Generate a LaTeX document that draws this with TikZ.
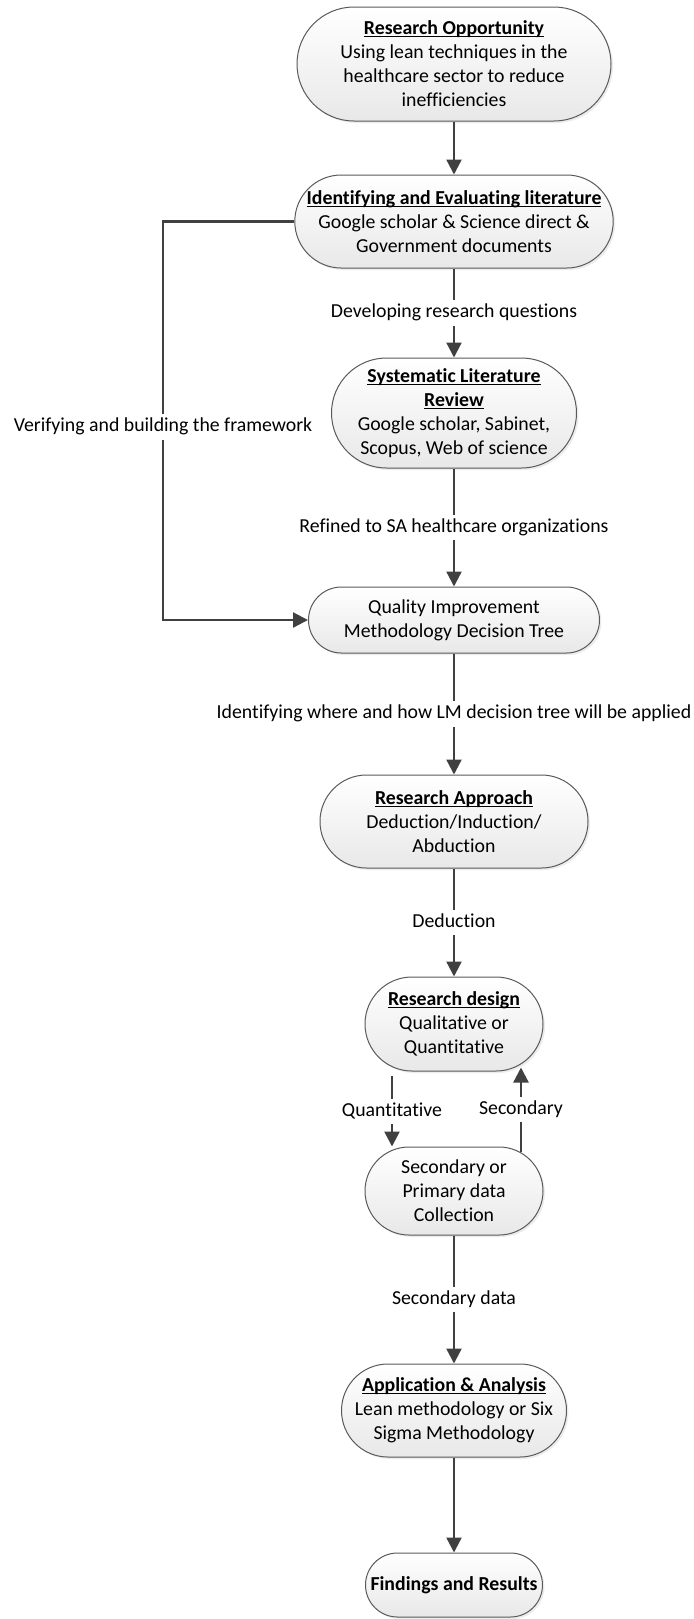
\documentclass[tikz,border=0pt]{standalone}
\usepackage{fontspec}
\setmainfont{Carlito}[Ligatures=NoCommon]
\usetikzlibrary{shapes.misc,arrows.meta,calc,shadows}
\definecolor{edge}{HTML}{404040}
\definecolor{rim}{HTML}{5A5A5A}
% bold heading with a thin underline sitting just below the baseline
\newcommand\titleline[1]{\setbox0\hbox{\bfseries #1}\rlap{\rule[-1.3pt]{\wd0}{0.5pt}}\box0}
\begin{document}
\begin{tikzpicture}[x=0.5pt,y=-0.5pt,
  every node/.style={font=\fontsize{9.9pt}{12pt}\selectfont},
  stage/.style={rounded rectangle, draw=rim, line width=0.5pt,
    top color=white, bottom color=black!9, inner sep=0pt, align=center,
    drop shadow={shadow xshift=1pt, shadow yshift=-1pt, opacity=0.15}},
  conn/.style={draw=edge, line width=1.15pt},
  arr/.style={conn, -{Triangle[length=7.5pt,width=7.5pt]}},
  tag/.style={inner sep=1.5pt, text height=7.2pt, text depth=2.3pt},
]
\useasboundingbox (0,0) rectangle (694,1619);

% process stages
\node[stage, minimum width=157pt, minimum height=57pt] (opp) at (454,64)
  {\titleline{Research Opportunity}\\Using lean techniques in the\\healthcare sector to reduce\\inefficiencies};
\node[stage, minimum width=157.5pt, minimum height=46.5pt] (lit) at (454,221.5)
  {\titleline{Identifying and Evaluating literature}\\Google scholar \& Science direct \&\\Government documents};
\node[stage, minimum width=122.5pt, minimum height=55pt] (slr) at (454,413)
  {\titleline{Systematic Literature}\\\titleline{Review}\\Google scholar, Sabinet,\\Scopus, Web of science};
\node[stage, minimum width=145.5pt, minimum height=33pt] (qim) at (454,620)
  {Quality Improvement\\Methodology Decision Tree};
\node[stage, minimum width=134pt, minimum height=46.5pt] (appr) at (454,821.5)
  {\titleline{Research Approach}\\Deduction/Induction/\\Abduction};
\node[stage, minimum width=89pt, minimum height=47pt] (design) at (454,1024)
  {\titleline{Research design}\\Qualitative or\\Quantitative};
\node[stage, minimum width=89pt, minimum height=44pt] (collect) at (454,1191)
  {Secondary or\\Primary data\\Collection};
\node[stage, minimum width=111.5pt, minimum height=46.5pt] (analysis) at (454,1410.5)
  {\titleline{Application \& Analysis}\\Lean methodology or Six\\Sigma Methodology};
\node[stage, minimum width=88.5pt, minimum height=32pt] (results) at (454,1585)
  {\textbf{Findings and Results}};

% connector labels
\node[tag] (t1) at (454,313) {Developing research questions};
\node[tag] (t2) at (454,527.5) {Refined to SA healthcare organizations};
\node[tag] (t3) at (454,714) {Identifying where and how LM decision tree will be applied};
\node[tag] (t4) at (454,922.5) {Deduction};
\node[tag] (tq) at (392,1111.5) {Quantitative};
\node[tag] (ts) at (521,1109.5) {Secondary};
\node[tag] (t5) at (454,1299.5) {Secondary data};
\node[tag] (tv) at (163,427) {Verifying and building the framework};

% main flow
\draw[arr] (opp.south) -- (lit.north);
\draw[conn] (lit.south) -- (t1.north);
\draw[arr] (t1.south) -- (slr.north);
\draw[conn] (slr.south) -- (t2.north);
\draw[arr] (t2.south) -- (qim.north);
\draw[conn] (qim.south) -- (t3.north);
\draw[arr] (t3.south) -- (appr.north);
\draw[conn] (appr.south) -- (t4.north);
\draw[arr] (t4.south) -- (design.north);
\draw[conn] ($(design.south -| tq)+(0,4)$) -- (tq.north);
\draw[arr] (tq.south) -- (tq.south |- collect.north);
\draw[conn] ($(collect.north -| ts)+(0,5)$) -- (ts.south);
\draw[arr] (ts.north) -- ($(ts.north |- design.south)+(0,-4)$);
\draw[conn] (collect.south) -- (t5.north);
\draw[arr] (t5.south) -- (analysis.north);
\draw[arr] (analysis.south) -- (results.north);

% feedback loop from the literature search to the decision tree
\draw[conn] (lit.west) -| (tv.north);
\draw[arr] (tv.south) |- (qim.west);
\end{tikzpicture}
\end{document}
